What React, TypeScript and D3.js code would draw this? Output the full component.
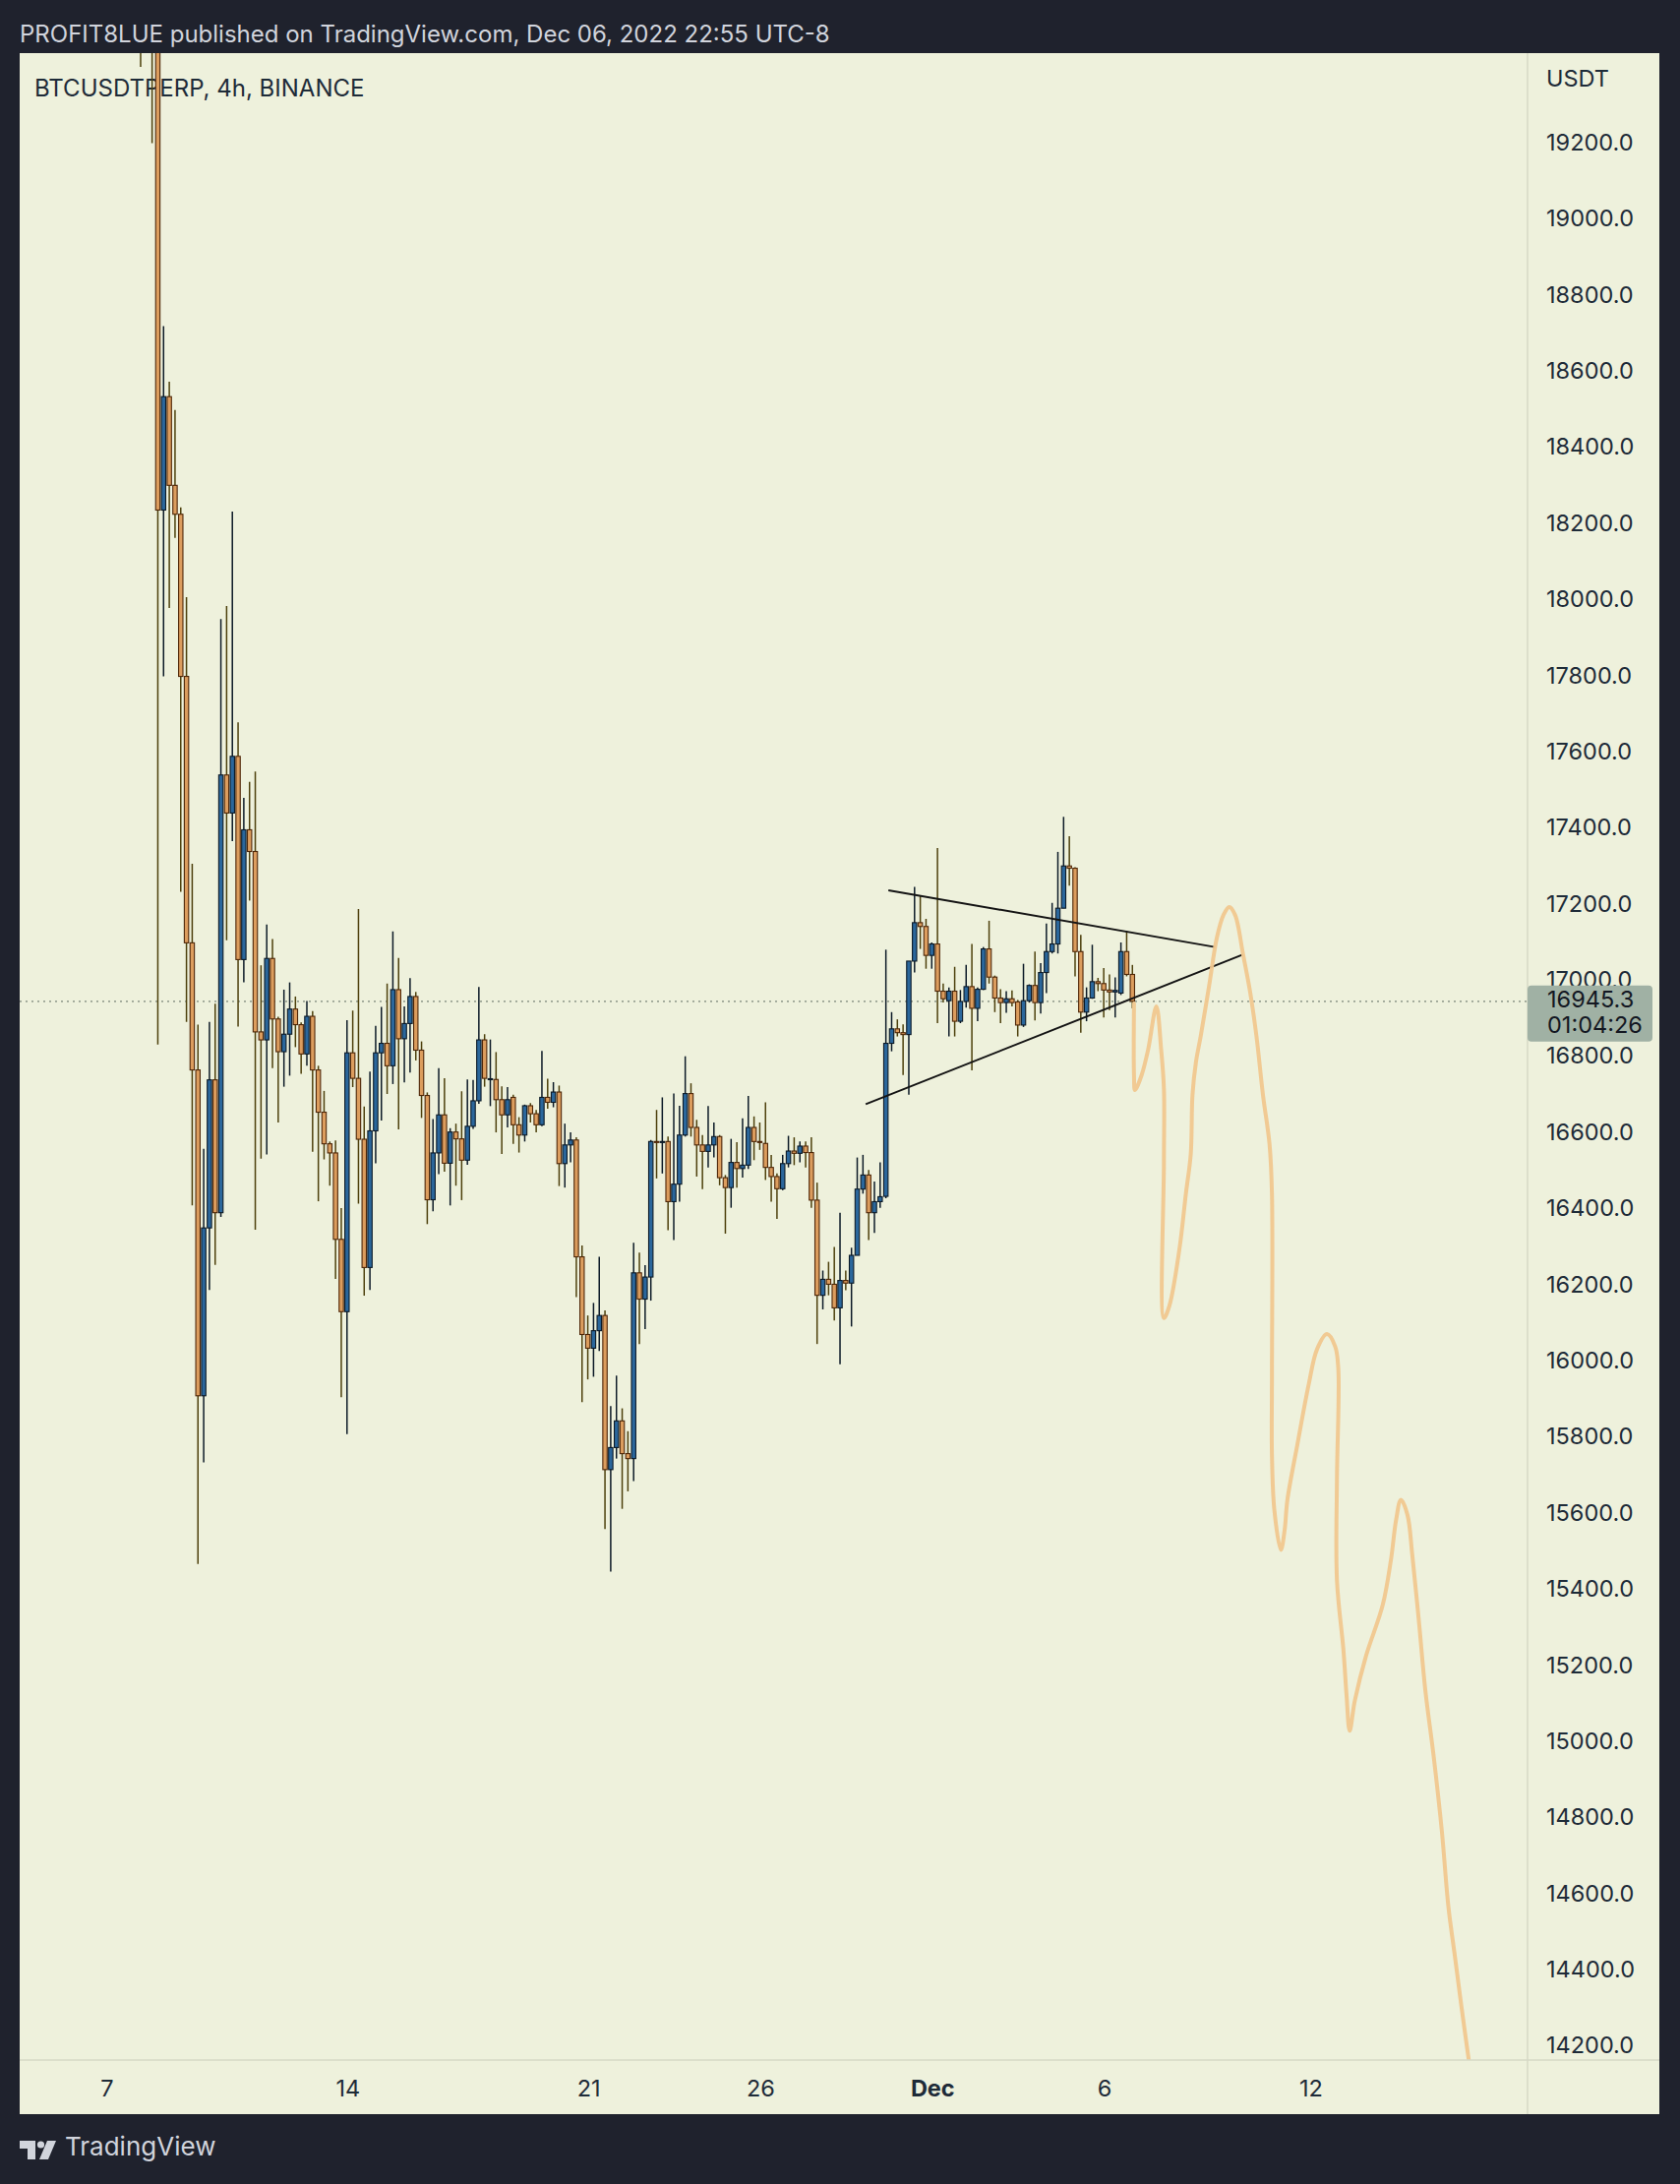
import React from "react";
import * as d3 from "d3";

const WIDTH = 1708;
const HEIGHT = 2220;

// 4h candles starting 2022-11-08 00:00
const opens = [
  19850, 19620, 19900, 19700, 18236, 18534, 18301, 18225, 17799, 17099,
  16765, 15909, 16350, 16739, 16390, 17540, 17440, 17589, 17055, 17396,
  17339, 16865, 16844, 17058, 16899, 16813, 16859, 16925, 16884, 16807,
  16906, 16765, 16654, 16571, 16547, 16320, 16130, 16810, 16743, 16583,
  16246, 16605, 16810, 16835, 16776, 16976, 16847, 16887, 16958, 16817,
  16698, 16424, 16547, 16647, 16520, 16602, 16584, 16528, 16617, 16684,
  16844, 16740, 16740, 16687, 16647, 16693, 16621, 16594, 16671, 16650,
  16621, 16693, 16680, 16707, 16519, 16568, 16581, 16274, 16070, 16034,
  16080, 16120, 15715, 15773, 15843, 15757, 15744, 16232, 16163, 16221,
  16577, 16575, 16577, 16419, 16465, 16594, 16703, 16614, 16568, 16551,
  16568, 16590, 16482, 16456, 16522, 16506, 16515, 16614, 16577, 16572,
  16509, 16485, 16453, 16519, 16552, 16546, 16565, 16548, 16423, 16173,
  16215, 16202, 16140, 16212, 16205, 16278, 16452, 16489, 16390, 16419,
  16433, 16835, 16873, 16863, 16858, 17051, 17152, 17142, 17066, 17096,
  16972, 16947, 16972, 16893, 16945, 16984, 16927, 16977, 17083, 17009,
  16954, 16942, 16952, 16944, 16883, 16947, 16987, 16942, 17021, 17076,
  17096, 17190, 17301, 17295, 17076, 16917, 16954, 16997, 16992, 16975,
  16970, 16967, 17076, 17016,
];
const highs = [
  20050, 19990, 20100, 19800, 18719, 18573, 18499, 18243, 18007, 17307,
  16884, 16558, 16891, 16939, 17950, 17984, 18232, 17678, 17480, 17522,
  17549, 17040, 17147, 17109, 16905, 16976, 16995, 16958, 16890, 16946,
  16920, 16776, 16710, 16577, 16580, 16402, 16896, 16921, 17188, 16669,
  16761, 16881, 16931, 16992, 17129, 17059, 16932, 17006, 16970, 16840,
  16706, 16636, 16770, 16743, 16612, 16624, 16709, 16740, 16739, 16983,
  16859, 16845, 16812, 16722, 16720, 16700, 16641, 16674, 16678, 16660,
  16815, 16742, 16733, 16724, 16624, 16601, 16588, 16304, 16120, 16153,
  16274, 16133, 15882, 15962, 15876, 15816, 16311, 16285, 16252, 16581,
  16660, 16693, 16590, 16703, 16671, 16801, 16730, 16634, 16594, 16670,
  16627, 16594, 16489, 16584, 16575, 16638, 16697, 16643, 16627, 16680,
  16542, 16493, 16542, 16592, 16588, 16577, 16577, 16588, 16469, 16238,
  16261, 16300, 16390, 16238, 16298, 16535, 16542, 16502, 16472, 16522,
  17081, 16917, 16898, 16885, 17051, 17246, 17224, 17162, 17100, 17348,
  16992, 16982, 17036, 16975, 17041, 17096, 16982, 17088, 17157, 17013,
  16977, 16972, 16974, 16949, 17044, 16990, 17076, 17046, 17150, 17204,
  17338, 17430, 17379, 17298, 17120, 16982, 17094, 17007, 17033, 17016,
  17008, 17100, 17130, 17041,
];
const lows = [
  19400, 19520, 19200, 16832, 17799, 17979, 18163, 17233, 16891, 16409,
  15467, 15734, 16187, 16253, 16379, 17106, 17366, 16879, 16995, 17210,
  16345, 16532, 16543, 16770, 16627, 16721, 16750, 16825, 16755, 16776,
  16550, 16420, 16530, 16461, 16216, 15905, 15808, 16720, 16414, 16172,
  16187, 16520, 16632, 16702, 16728, 16609, 16732, 16758, 16790, 16639,
  16360, 16394, 16491, 16498, 16409, 16461, 16423, 16516, 16610, 16676,
  16721, 16670, 16601, 16544, 16614, 16571, 16548, 16577, 16627, 16601,
  16617, 16663, 16667, 16460, 16456, 16522, 16168, 15892, 15952, 15959,
  16027, 15559, 15447, 15744, 15612, 15658, 15685, 16045, 16084, 16159,
  16480, 16493, 16344, 16318, 16419, 16590, 16590, 16485, 16452, 16509,
  16535, 16462, 16335, 16403, 16456, 16482, 16505, 16528, 16555, 16476,
  16419, 16374, 16449, 16509, 16515, 16522, 16509, 16403, 16045, 16136,
  16173, 16107, 15992, 16186, 16091, 16278, 16440, 16318, 16337, 16403,
  16428, 16814, 16853, 16752, 16700, 17021, 17083, 17031, 17031, 16888,
  16942, 16853, 16853, 16888, 16929, 16764, 16893, 16975, 16992, 16917,
  16888, 16915, 16932, 16853, 16878, 16942, 16895, 16913, 16967, 17071,
  17071, 17190, 17249, 17011, 16863, 16893, 16952, 16972, 16903, 16922,
  16903, 16962, 17011, 16927,
];
const closes = [
  19620, 19900, 19700, 18236, 18534, 18301, 18225, 17799, 17099, 16765,
  15909, 16350, 16739, 16390, 17540, 17440, 17589, 17055, 17396, 17339,
  16865, 16844, 17058, 16899, 16813, 16859, 16925, 16884, 16807, 16906,
  16765, 16654, 16571, 16547, 16320, 16130, 16810, 16743, 16583, 16246,
  16605, 16810, 16835, 16776, 16976, 16847, 16887, 16958, 16817, 16698,
  16424, 16547, 16647, 16520, 16602, 16584, 16528, 16617, 16684, 16844,
  16743, 16742, 16687, 16647, 16687, 16621, 16594, 16671, 16650, 16621,
  16693, 16680, 16707, 16519, 16568, 16581, 16274, 16070, 16034, 16080,
  16120, 15715, 15773, 15843, 15757, 15744, 16232, 16163, 16221, 16577,
  16575, 16577, 16419, 16465, 16594, 16703, 16614, 16568, 16551, 16568,
  16590, 16482, 16456, 16522, 16506, 16515, 16614, 16577, 16575, 16509,
  16485, 16453, 16519, 16552, 16546, 16565, 16548, 16423, 16173, 16215,
  16202, 16140, 16212, 16205, 16278, 16452, 16489, 16390, 16419, 16432,
  16835, 16873, 16863, 16858, 17051, 17152, 17142, 17066, 17096, 16972,
  16952, 16972, 16893, 16945, 16984, 16927, 16977, 17083, 17009, 16954,
  16942, 16952, 16942, 16883, 16947, 16987, 16942, 17021, 17076, 17096,
  17190, 17301, 17295, 17076, 16917, 16954, 16997, 16992, 16975, 16970,
  16974, 17076, 17016, 16945.3,
];

const priceTicks = d3.range(14200, 19201, 200);
const timeTickDates = [
  Date.UTC(2022, 10, 7), Date.UTC(2022, 10, 14), Date.UTC(2022, 10, 21),
  Date.UTC(2022, 10, 26), Date.UTC(2022, 11, 1), Date.UTC(2022, 11, 6),
  Date.UTC(2022, 11, 12),
];
const timeTickLabels = ["7", "14", "21", "26", "Dec", "6", "12"];

// trendlines (days since Nov 7, price)
const upperLineDays = [22.74, 32.23];
const upperLinePrices = [17237, 17088];
const lowerLineDays = [22.08, 33.04];
const lowerLinePrices = [16675, 17068];

// hand-drawn projection (days since Nov 7, price)
const projDays = [
  29.88, 29.88, 29.91, 30.1, 30.29, 30.53, 30.67, 30.75, 30.75, 30.75, 30.91,
  31.2, 31.39, 31.53, 31.58, 31.68, 31.82, 32.06, 32.29, 32.48, 32.65, 32.82,
  33.05, 33.25, 33.44, 33.63, 33.82, 33.89, 33.89, 33.89, 33.96, 34.15, 34.26,
  34.34, 34.63, 34.96, 35.2, 35.49, 35.73, 35.82, 35.78, 35.78, 35.97, 36.06,
  36.15, 36.3, 36.63, 37.11, 37.35, 37.5, 37.64, 37.83, 37.97, 38.16, 38.35,
  38.59, 38.83, 39.02, 39.21, 39.4, 39.61,
];
const projPrices = [
  16940, 16751, 16712, 16751, 16818, 16932, 16818, 16715, 16526, 16113, 16146,
  16294, 16441, 16544, 16699, 16785, 16854, 16984, 17113, 17172, 17193, 17172,
  17069, 16973, 16854, 16699, 16570, 16441, 15958, 15754, 15609, 15504, 15557,
  15636, 15781, 15939, 16031, 16071, 16038, 15979, 15689, 15425, 15240, 15121,
  15029, 15108, 15227, 15359, 15478, 15583, 15636, 15596, 15491, 15319, 15135,
  14963, 14765, 14567, 14436, 14304, 14166,
];

const lastPrice = 16945.3;
const countdown = "01:04:26";

const firstBar = Date.UTC(2022, 10, 8, 0);
const barMs = 4 * 3600 * 1000;
const dayMs = 86400000;
const day0 = Date.UTC(2022, 10, 7);

const FONT = "Inter, 'Noto Sans', 'DejaVu Sans', sans-serif";
const BG = "#1f222d";
const PANEL = "#eef1dc";
const TEXT = "#1e2b38";
const AXIS_FS = 23.5;

export default function App() {
  const left = 20, top = 54, right = 1687, bottom = 2149;
  const plotRight = 1553, plotBottom = 2094;

  const x = d3
    .scaleUtc()
    .domain([new Date(day0), new Date(Date.UTC(2022, 11, 12))])
    .range([108, 108 + 35 * 34.97]);
  const y = d3.scaleLinear().domain([14200, 19200]).range([2080, 145.5]);
  const dx = (d: number) => x(new Date(day0 + d * dayMs));

  const bars = opens.map((o, i) => ({
    t: new Date(firstBar + i * barMs),
    o,
    h: highs[i],
    l: lows[i],
    c: closes[i],
  }));

  const projPts: [number, number][] = projDays.map((d, i) => [d, projPrices[i]]);
  const projLine = d3
    .line<[number, number]>()
    .x((d) => dx(d[0]))
    .y((d) => y(d[1]))
    .curve(d3.curveCatmullRom.alpha(0.5));

  const bodyW = 4.4;
  const boxTop = y(lastPrice) - 16;

  return (
    <div style={{ position: "absolute", left: 0, top: 0, width: WIDTH, height: HEIGHT }}>
      <svg width={WIDTH} height={HEIGHT} style={{ display: "block" }} fontFamily={FONT}>
        <defs>
          <clipPath id="plot">
            <rect x={left} y={top} width={plotRight - left} height={plotBottom - top} />
          </clipPath>
        </defs>
        <rect x={0} y={0} width={WIDTH} height={HEIGHT} fill={BG} />
        <text x={20} y={36} fontSize={24} fill="#d1d4dc" dominantBaseline="middle">
          PROFIT8LUE published on TradingView.com, Dec 06, 2022 22:55 UTC-8
        </text>
        <rect x={left} y={top} width={right - left} height={bottom - top} fill={PANEL} />

        <text x={35} y={91} fontSize={24} fill={TEXT} dominantBaseline="middle">
          BTCUSDTPERP, 4h, BINANCE
        </text>

        <g clipPath="url(#plot)">
          {/* current price dotted line */}
          <line
            x1={left}
            x2={plotRight}
            y1={y(lastPrice)}
            y2={y(lastPrice)}
            stroke="#9aa394"
            strokeWidth={1.6}
            strokeDasharray="2 4"
          />
          {bars.map((b, i) => {
            const cx = x(b.t);
            const up = b.c >= b.o;
            const yTop = y(Math.max(b.o, b.c));
            const yBot = y(Math.min(b.o, b.c));
            return (
              <g key={i}>
                <line
                  x1={cx}
                  x2={cx}
                  y1={y(b.h)}
                  y2={y(b.l)}
                  stroke={up ? "#0c1a27" : "#4d400c"}
                  strokeWidth={1.5}
                />
                <rect
                  x={cx - bodyW / 2}
                  y={yTop}
                  width={bodyW}
                  height={Math.max(1, yBot - yTop)}
                  fill={up ? "#2b679c" : "#dc9d5e"}
                  stroke={up ? "#0c1a27" : "#4f2709"}
                  strokeWidth={1.1}
                />
              </g>
            );
          })}
          {/* triangle */}
          <line
            x1={dx(upperLineDays[0])}
            y1={y(upperLinePrices[0])}
            x2={dx(upperLineDays[1])}
            y2={y(upperLinePrices[1])}
            stroke="#141414"
            strokeWidth={2}
          />
          <line
            x1={dx(lowerLineDays[0])}
            y1={y(lowerLinePrices[0])}
            x2={dx(lowerLineDays[1])}
            y2={y(lowerLinePrices[1])}
            stroke="#141414"
            strokeWidth={2}
          />
          {/* projection */}
          <path
            d={projLine(projPts) || ""}
            fill="none"
            stroke="#f0c78e"
            strokeWidth={4}
            strokeLinecap="round"
            strokeLinejoin="round"
            opacity={0.95}
          />
        </g>

        {/* separators */}
        <line x1={plotRight} x2={plotRight} y1={top} y2={bottom} stroke="#d6d9c6" strokeWidth={1.5} />
        <line x1={left} x2={right} y1={plotBottom} y2={plotBottom} stroke="#d6d9c6" strokeWidth={1.5} />

        {/* price axis */}
        <text x={1572} y={82} fontSize={AXIS_FS} fill={TEXT} dominantBaseline="middle">
          USDT
        </text>
        {priceTicks.map((p) => (
          <text key={p} x={1572} y={y(p) + 1} fontSize={AXIS_FS} fill={TEXT} dominantBaseline="middle">
            {p.toFixed(1)}
          </text>
        ))}
        <rect x={plotRight} y={boxTop} width={127} height={57} rx={4} fill="#a0b1a4" />
        <text x={1573} y={boxTop + 16} fontSize={AXIS_FS} fill="#131722" dominantBaseline="middle">
          {lastPrice.toFixed(1)}
        </text>
        <text x={1573} y={boxTop + 42} fontSize={AXIS_FS} fill="#131722" dominantBaseline="middle">
          {countdown}
        </text>

        {/* time axis */}
        {timeTickDates.map((t, i) => (
          <text
            key={t}
            x={x(new Date(t)) + 1}
            y={2125}
            fontSize={AXIS_FS}
            fill={TEXT}
            textAnchor="middle"
            dominantBaseline="middle"
            fontWeight={timeTickLabels[i] === "Dec" ? 700 : 400}
          >
            {timeTickLabels[i]}
          </text>
        ))}

        {/* TradingView logo */}
        <g fill="#d1d4dc">
          <path d="M20,2176 h16 v19 h-8 v-11 h-8 z" />
          <circle cx={41.5} cy={2180} r={3.6} />
          <path d="M48,2176 h9 l-8,19 h-9 z" />
        </g>
        <text x={66} y={2184} fontSize={26} fill="#d1d4dc" dominantBaseline="middle">
          TradingView
        </text>
      </svg>
    </div>
  );
}
